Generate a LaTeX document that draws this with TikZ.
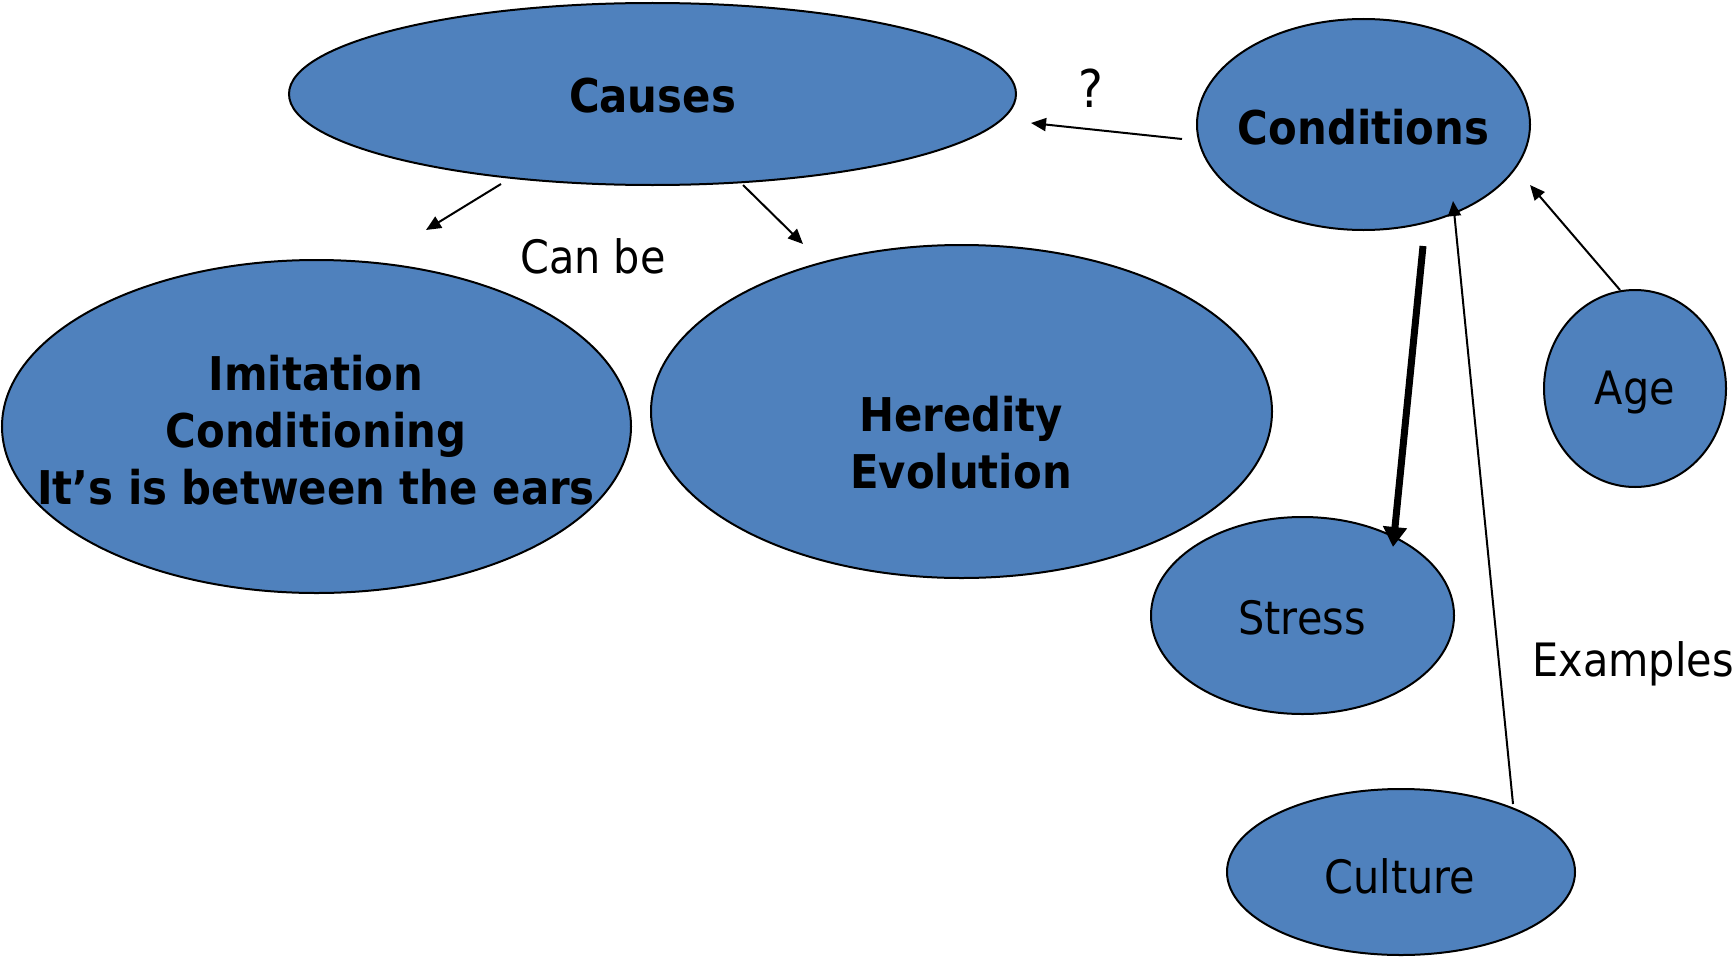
\documentclass[tikz,border=0pt]{standalone}
\usepackage{fontspec}
\setmainfont{DejaVu Sans}[FakeStretch=0.9]
\usetikzlibrary{shapes.geometric,arrows.meta}
\definecolor{blobblue}{HTML}{4F81BD}
\tikzset{
  blob/.style={ellipse, draw=black, line width=2pt, fill=blobblue, inner sep=0pt, text=black},
  boldtxt/.style={font=\fontsize{46.5}{57}\selectfont\bfseries, align=center, inner sep=0pt},
  plaintxt/.style={font=\fontsize{46}{50}\selectfont, align=center, inner sep=0pt},
  thinarrow/.style={line width=2pt, -{Triangle[length=15pt,width=13pt]}},
  thickarrow/.style={line width=7pt, -{Triangle[length=20pt,width=23pt]}},
}
\begin{document}
\begin{tikzpicture}[x=1pt,y=-1pt]
\useasboundingbox (0,0) rectangle (1736,958);
% ellipses
\node[blob, minimum width=727pt, minimum height=182pt] (causes) at (652.5,94) {};
\node[boldtxt] (causestxt) at (652.5,96) {Causes};
\node[blob, minimum width=333pt, minimum height=211pt] (cond) at (1363.5,124.5) {};
\node[boldtxt] (condtxt) at (1363.5,127) {Conditions};
\node[blob, minimum width=629pt, minimum height=333pt] (imit) at (316.5,426.5) {};
\node[boldtxt] (imittxt) at (316,430) {Imitation\\Conditioning\\It’s is between the ears};
\node[blob, minimum width=621pt, minimum height=333pt] (hered) at (961.5,411.5) {};
\node[boldtxt] (heredtxt) at (961,443) {Heredity\\Evolution};
\node[blob, minimum width=182pt, minimum height=197pt] (age) at (1635,388.5) {};
\node[plaintxt] (agetxt) at (1635,393) {Age};
\node[blob, minimum width=303pt, minimum height=197pt] (stress) at (1302.5,615.5) {};
\node[plaintxt] (stresstxt) at (1302,618) {Stress};
\node[blob, minimum width=348pt, minimum height=166pt] (culture) at (1401,872) {};
\node[plaintxt] (culturetxt) at (1400,876) {Culture};
% labels
\node[plaintxt, font=\fontsize{52}{56}\selectfont] (qlabel) at (1091,88) {?};
\node[plaintxt] (canbe) at (593,256) {Can be};
\node[plaintxt] (examples) at (1633,664) {Examples};
% connector ends
\coordinate (c1s) at (1182,139);
\coordinate (c1e) at (1031,123);
\coordinate (c2s) at (501,184);
\coordinate (c2e) at (426,230);
\coordinate (c3s) at (743,185);
\coordinate (c3e) at (803,244);
\coordinate (c4s) at (1423,246);
\coordinate (c4e) at (1393,547);
\coordinate (c5s) at (1513,804);
\coordinate (c5e) at (1453,201);
\coordinate (c6s) at (1620,290);
\coordinate (c6e) at (1530,185);
% connectors
\draw[thinarrow] (c1s) -- (c1e);
\draw[thinarrow] (c2s) -- (c2e);
\draw[thinarrow] (c3s) -- (c3e);
\draw[thickarrow] (c4s) -- (c4e);
\draw[thinarrow] (c5s) -- (c5e);
\draw[thinarrow] (c6s) -- (c6e);
\end{tikzpicture}
\end{document}
